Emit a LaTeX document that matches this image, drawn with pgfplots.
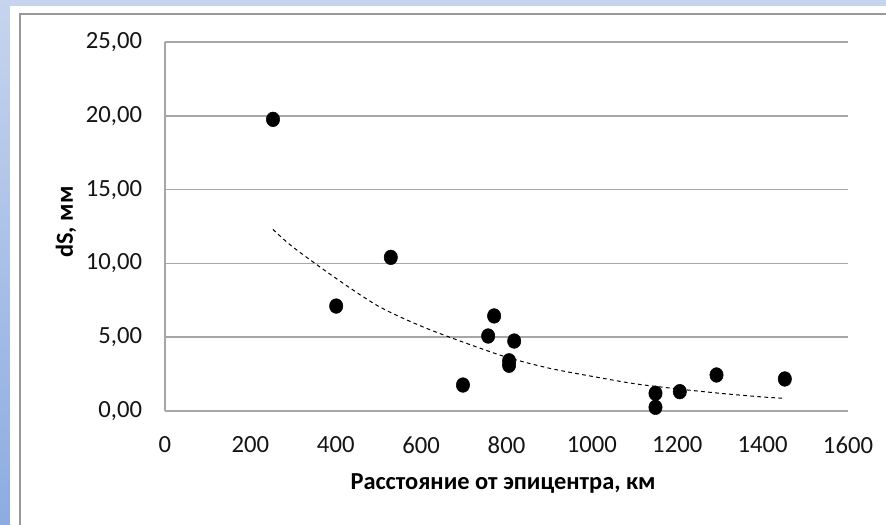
\documentclass[border=0pt]{standalone}
\usepackage{pgfplots}
\pgfplotsset{compat=1.18}
\usepackage{fontspec}
\setmainfont{Carlito}
\definecolor{bgtop}{RGB}{198,212,238}
\definecolor{bgbot}{RGB}{140,172,224}
\definecolor{gridc}{RGB}{166,166,166}
\definecolor{txt}{RGB}{20,20,20}
\begin{document}
\begin{tikzpicture}[x=1pt,y=1pt]
\useasboundingbox (0,0) rectangle (664.5,393.75);
\shade[top color=bgtop, bottom color=bgbot] (0,0) rectangle (664.5,393.75);
\fill[white] (7.5,0) rectangle (670,389.25);
\draw[gray!80, line width=1.1pt] (15,-5) -- (15,383.25) -- (670,383.25);
\begin{axis}[
  at={(123.75pt,85.5pt)}, anchor=south west,
  scale only axis, width=512.25pt, height=276.75pt,
  xmin=0, xmax=1600, ymin=0, ymax=25,
  xtick={0,200,...,1600}, ytick={0,5,...,25},
  axis line style={gridc, line width=1.1pt},
  axis x line*=bottom, axis y line*=left,
  ymajorgrids, major grid style={gridc, line width=1.1pt},
  major tick length=0pt,
  tick label style={font=\fontsize{18.5}{21}\selectfont, text=txt},
  /pgf/number format/assume math mode=true,
  xticklabel style={/pgf/number format/1000 sep={}},
  yticklabel style={/pgf/number format/fixed, /pgf/number format/fixed zerofill, /pgf/number format/precision=2, /pgf/number format/use comma},
  yticklabel style={anchor=east, inner sep=0pt, xshift=-17pt},
  xticklabel style={anchor=north, inner sep=0pt, yshift=-19pt},
  xlabel={Расстояние от эпицентра, км},
  ylabel={dS, мм},
  label style={font=\bfseries\fontsize{18.3}{21}\selectfont, text=black},
  xlabel style={at={(rel axis cs:0.495,-0.2114)}, anchor=base},
  ylabel style={at={(rel axis cs:-0.145,0.512)}, anchor=center},
  clip=false,
]
\addplot[black, line width=0.75pt, dash pattern=on 2.8pt off 2.5pt, smooth] coordinates {
(253,12.3) (300,11.1) (400,9.0) (500,7.1) (600,5.75) (700,4.65) (800,3.65) (900,2.9) (1000,2.35) (1100,1.85) (1200,1.5) (1300,1.2) (1400,0.95) (1452,0.86)
};
\addplot[only marks, mark=*, mark size=5pt, black, mark options={yscale=1.1, fill=black}] coordinates {
(253,19.76) (401,7.11) (529,10.41) (698,1.76) (757,5.08) (771,6.44) (818,4.74) (806,3.1) (806,3.4) (1149,1.2) (1149,0.25) (1206,1.31) (1292,2.44) (1452,2.17)
};
\end{axis}
\end{tikzpicture}
\end{document}
